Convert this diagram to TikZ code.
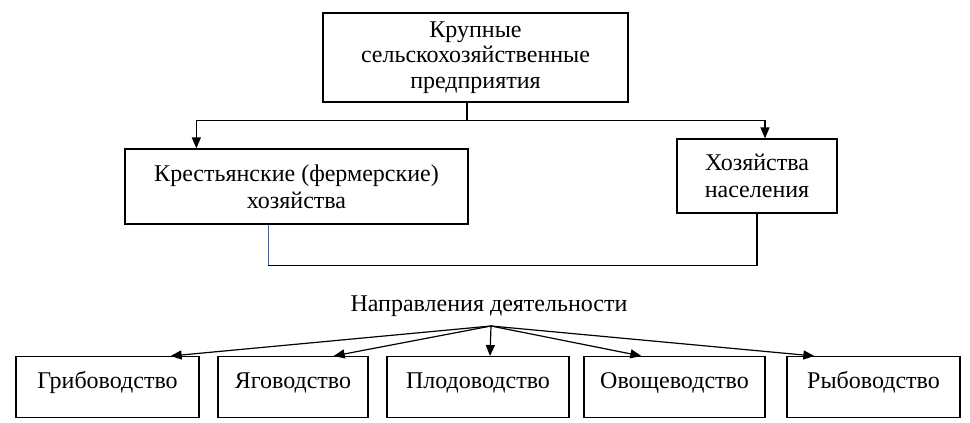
\documentclass[tikz,border=0pt]{standalone}
\usepackage{fontspec}
\setmainfont{Liberation Serif}
\usetikzlibrary{arrows.meta, positioning, calc}
\definecolor{joinblue}{RGB}{70,100,160}

\begin{document}
\begin{tikzpicture}[
  x=1pt, y=-1pt,
  font=\fontsize{24}{27}\selectfont,
  >={Triangle[length=11pt,width=9pt]},
  %--- box styles ---
  orgbox/.style={
    draw=black, line width=1.3pt,
    rectangle, align=center, inner sep=3pt
  },
  kindbox/.style={
    draw=black, line width=1.3pt,
    rectangle, align=center, anchor=north,
    inner xsep=3pt, inner ysep=4pt,
    text height=28pt, text depth=25pt
  },
  %--- connector styles ---
  link/.style={draw=black, line width=1.3pt},
  arr/.style={->, draw=black, line width=1.3pt},
  fanarr/.style={->, draw=black, line width=1.2pt},
  bluelink/.style={draw=joinblue, line width=0.9pt}
]

\useasboundingbox (0,0) rectangle (970,423);

%------------------------------------------------------------------
%  Farm types (top part)
%------------------------------------------------------------------
\node[orgbox, minimum width=305pt, minimum height=89pt, font=\fontsize{24}{25.5}\selectfont]
  (big)  at (475.5, 57.5) {Крупные\\сельскохозяйственные\\предприятия};
\node[orgbox, minimum width=343pt, minimum height=75pt]
  (farm) at (296.5, 186.5) {Крестьянские (фермерские)\\хозяйства};
\node[orgbox, minimum width=160pt, minimum height=74pt]
  (pop)  at (757, 176) {Хозяйства\\населения};

\draw[link] ([xshift=-8.5pt]big.south) -- ++(0,18) coordinate (fork);
\draw[arr]  (fork) -| ([xshift=72pt]farm.north west);
\draw[arr]  (fork) -| ([xshift=8pt]pop.north);

%------------------------------------------------------------------
%  Joining line under both boxes
%------------------------------------------------------------------
\draw[bluelink] ([xshift=-28.5pt]farm.south) -- ++(0,41) coordinate (join);
\draw[link] (join) -| (pop.south);

%------------------------------------------------------------------
%  Activity directions (bottom part)
%------------------------------------------------------------------
\node (dirs) at (489, 306) {Направления деятельности};
\coordinate (hub) at (491, 326);

\node[kindbox, minimum width=183pt] (mush)  at (107.5, 356) {Грибоводство};
\node[kindbox, minimum width=150pt] (berry) at (293, 356)   {Яговодство};
\node[kindbox, minimum width=182pt] (fruit) at (478, 356)   {Плодоводство};
\node[kindbox, minimum width=181pt] (veg)   at (674.5, 356) {Овощеводство};
\node[kindbox, minimum width=173pt] (fish)  at (873.5, 356) {Рыбоводство};

\draw[fanarr] (hub) -- ([xshift=-29pt]mush.north east);
\draw[fanarr] (hub) -- ([xshift=-35pt]berry.north east);
\draw[fanarr] (hub) -- ([xshift=12pt]fruit.north);
\draw[fanarr] (hub) -- ([xshift=58pt]veg.north west);
\draw[fanarr] (hub) -- ([xshift=28pt]fish.north west);

\end{tikzpicture}
\end{document}
